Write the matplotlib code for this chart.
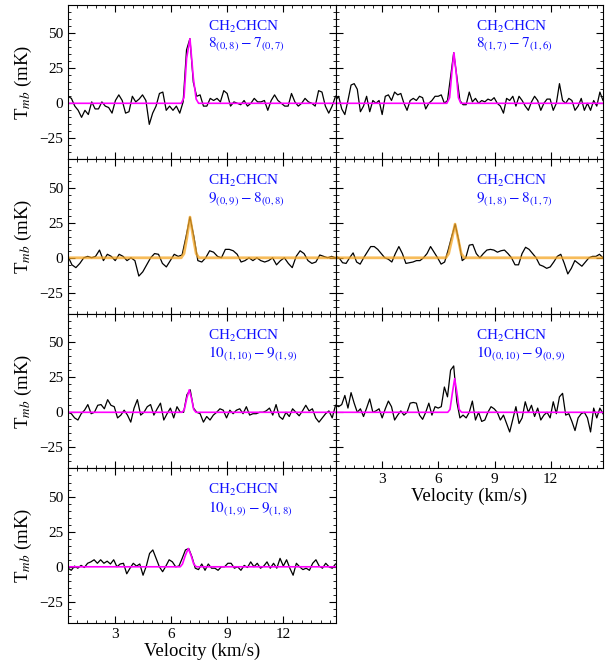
import numpy as np
import matplotlib
matplotlib.use('Agg')
import matplotlib.pyplot as plt
from matplotlib.ticker import MultipleLocator

plt.rcParams['font.family'] = 'serif'
plt.rcParams['font.serif'] = ['Liberation Serif', 'DejaVu Serif']
plt.rcParams['mathtext.fontset'] = 'stix'

vmin, vmax = 0.5, 14.8

# observed spectra (mK), uniform velocity channels between vmin and vmax
t_80807 = [5, 3.5, -2, -5, -10, -5, -8, 1, -4, -4, 1, -2, -3, -7, 2, 6, 2, -7, -6, 5,
           1, 3, 6, 2, -15, -7, -2, 7, 8, -5, -2, -5, -2, -7, 1, 38, 46, 15, 5, 6,
           -2, -2, 3.5, 2, 3.5, 1, 9, 7, -2, 1, 0, -1, 2, -2, 0, 3.5, 1, 1, 2, -5,
           2, 6, 2, 0, -2, -2, 7, 1, -2, 0, 3.5, 1, 0, -2, 9, 8, -2, -7, -2, 5]
t_81716 = [2, 5, -4, -8, 2, 13, 14, 10, -6, -2, 5, -6, 2, 0, 2, -8, 5, 6, 2, 8,
           6, 7, 0, -5, 2, 3.5, 2, 5, 4, -4, 0, 2, 5, 5, 6, 0, 2, 19, 36, 19,
           2, -1, -1, 8, 1, 3.5, 0, 2, 1, 3, 2, 4, 0, -2, -7, 3.5, 2, 5, -2, 5,
           2, -2, -5, 1, 5, 2, -5, 0, 3, 3, -5, 0, 14, 2, 0, 3.5, 2, -5, -2, 3.5,
           -5, 0, -5, 2, -2, 8, 2]
t_90908 = [1, -5, -7, -4, 0, 1, 0, 1, 5.5, -2, 2.5, 1, -2, 2.5, 1, -2, 0, -2, -13, -10,
           -5, 0, 3, 2.5, -4, -6.5, -2, 2.5, 1, 2, 15, 29, 15, -2, -3, 0, 5, 4, 1, 0,
           6, 6, 5, 2.5, -3, -2, 0, -2, 0, -2, -3, -2, 0, -5, -2, 0, -4, -7, 1, 5,
           3, -2, -4, -3, 2, 1, 0, 1, 0]
t_91817 = [1, 0, -3.5, -4, 0, 3.5, -3, -4.5, 0, 4, 8, 8, 6, 3, 0, -1, -3, 3, 8, 3,
           -4, -3.5, -3, -2, -2, 0, 3, 8, 4, 0, -4.5, -3, 5.5, 15, 24, 12.5, -2, 0, 9, 9.5,
           3, 0, 3, 5.5, 6, 5.5, 4, 5, 5.5, 3, 0, -5, -5, 3, 7.5, 6, 3, 0, -5, -6,
           -7.5, -6.5, -3, 1, 2.5, -4, -11.5, -7.5, -2, -4, -6, -3, 0, 1, 1, 2.5, 0]
t_101109 = [0, -1, -4, -5.5, -1, 1.5, 5.5, -1, 0, 5, 5.5, 2.5, 9, 5, 4, -4, -2, 1.5, -2, -7,
            3, 9, -2, 0, 4, 5.5, -2, 2.5, 6.5, -5.5, -1, 3, -4, 4, 0, 0, 12.5, 16, 3, 0,
            -1, -7, -3, -5.5, -2, 0, 2.5, 1.5, -4, 1.5, -1, 1.5, 2.5, -1, 4, -2, -1, -1, 0, 0,
            1, 3, -2, 5.5, -3, -5, 0, -3, 2.5, 0, -2.5, 1, 5, 1, 2.5, -4, -7, -4, -1, 1,
            -4, 5]
t_100109 = [5, 4, 5.5, 12, 3, 14, 6.5, 0, 2.5, -3, 3, 9.5, 0, 1, 2.5, -4, 2.5, 8, 4, -5.5,
            -2, 1, -2, 0, 6.5, 7, 6.5, -2, -5, 0, 6.5, -2, 4, 3, 4, 18, 11, 30, 33, 7.5,
            -4, -2, -4, 0, 8, -5.5, 0, -6.5, -5.5, 0, 4, 2.5, 0, -5.5, -2, -8, -14, -5, 4, -8,
            -4, 7.5, 0, 5, -3, 3, -5.5, -2, 0, -4, 7.5, -1, 11, 13.5, -2, -1, -6.5, -13, -4, -1,
            0, -4, -14, 3, -4, 3, -1]
t_101918 = [-1, -2.5, 0.5, -1, 1, -0.5, 2.5, 3.5, 5, 2.5, 5, 2.5, 4, 2, 5, 0, 2, 2.5, -5, -1,
            2.5, 0.5, 2, -6, 0.5, 9.5, 12, 6, 0, -3.5, 0.5, 5, 3.5, 0, 0.5, 6, 12, 13, 7, -1,
            -2, 2, -2.5, 2, -1, -1, -2.5, 0, 0, 2.5, 2.5, -1, 0, -2.5, 1, -0.5, 3.5, 0, 2.5, -1,
            0.5, 3.5, -1, 2.5, -1, 6, 0.5, 5, -1, -6, 2.5, 0, -2, -1, -2.5, 2.5, 5, 0.5, -1, 2.5,
            0, -1, 2]

# line fits (velocity, mK)
fv_80807 = [0.5, 6.55, 6.7, 6.84, 7.02, 7.2, 7.35, 7.48, 14.8]
ft_80807 = [0, 0, 4, 32, 46, 18, 3, 0, 0]
fv_81716 = [0.5, 6.45, 6.6, 6.72, 6.83, 6.95, 7.07, 7.2, 14.8]
ft_81716 = [0, 0, 4, 22, 36, 22, 4, 0, 0]
fv_90908 = [0.5, 6.55, 6.7, 6.85, 7.02, 7.2, 7.35, 7.5, 14.8]
ft_90908 = [0, 0, 3, 14, 29, 14, 3, 0, 0]
fv_91817 = [0.5, 6.4, 6.55, 6.72, 6.89, 7.06, 7.22, 7.38, 14.8]
ft_91817 = [0, 0, 3, 13, 24, 13, 3, 0, 0]
fv_101109 = [0.5, 6.6, 6.72, 6.85, 6.98, 7.1, 7.22, 7.34, 14.8]
ft_101109 = [0, 0, 2, 10, 16, 10, 2, 0, 0]
fv_100109 = [0.5, 6.5, 6.62, 6.75, 6.87, 6.99, 7.11, 7.24, 14.8]
ft_100109 = [0, 0, 2, 14, 24, 14, 2, 0, 0]
fv_101918 = [0.5, 6.5, 6.62, 6.77, 6.93, 7.08, 7.22, 7.36, 14.8]
ft_101918 = [0, 0, 2, 8, 13, 8, 2, 0, 0]

labels = [r'$8_{(0,8)}-7_{(0,7)}$', r'$8_{(1,7)}-7_{(1,6)}$',
          r'$9_{(0,9)}-8_{(0,8)}$', r'$9_{(1,8)}-8_{(1,7)}$',
          r'$10_{(1,10)}-9_{(1,9)}$', r'$10_{(0,10)}-9_{(0,9)}$',
          r'$10_{(1,9)}-9_{(1,8)}$']
spectra = [t_80807, t_81716, t_90908, t_91817, t_101109, t_100109, t_101918]
fits = [(fv_80807, ft_80807), (fv_81716, ft_81716), (fv_90908, ft_90908),
        (fv_91817, ft_91817), (fv_101109, ft_101109), (fv_100109, ft_100109),
        (fv_101918, ft_101918)]
fitstyle = ['m', 'm', 'o', 'o', 'm', 'm', 'm']

fig = plt.figure(figsize=(6.15, 6.65), dpi=100)
left, right, top, bottom = 0.1106, 0.9805, 0.9925, 0.0632
w = (right - left) / 2
h = (top - bottom) / 4

for i in range(7):
    row, col = i // 2, i % 2
    ax = fig.add_axes([left + col * w, top - (row + 1) * h, w, h])
    t = spectra[i]
    v = np.linspace(vmin, vmax, len(t))
    ax.plot(v, t, color='k', lw=0.9)
    fv, ft = fits[i]
    if fitstyle[i] == 'm':
        ax.plot(fv, ft, color='#ff00ff', lw=1.2)
    else:
        ax.plot(fv, ft, color='#f5a623', lw=2.0, alpha=0.75)
    ax.set_xlim(vmin, vmax)
    ax.set_ylim(-40, 70)
    ax.xaxis.set_major_locator(MultipleLocator(3))
    ax.xaxis.set_minor_locator(MultipleLocator(0.5))
    ax.yaxis.set_major_locator(MultipleLocator(25))
    ax.yaxis.set_minor_locator(MultipleLocator(5))
    ax.tick_params(which='both', direction='in', top=True, right=True, labelsize=11)
    ax.tick_params(which='major', length=5)
    ax.tick_params(which='minor', length=2.5)
    ax.set_yticks([-25, 0, 25, 50])
    if col == 0:
        ax.set_ylabel(r'T$_{mb}$ (mK)', fontsize=13.5)
    else:
        ax.set_yticklabels([])
    if i >= 5:
        ax.set_xlabel('Velocity (km/s)', fontsize=13.5, labelpad=1)
    else:
        ax.set_xticklabels([])
    ax.text(0.525, 0.91, 'CH$_2$CHCN\n' + labels[i], transform=ax.transAxes,
            color='#1010ff', fontsize=11, va='top', ha='left', linespacing=1.05)

fig.savefig('out.png', dpi=100)
